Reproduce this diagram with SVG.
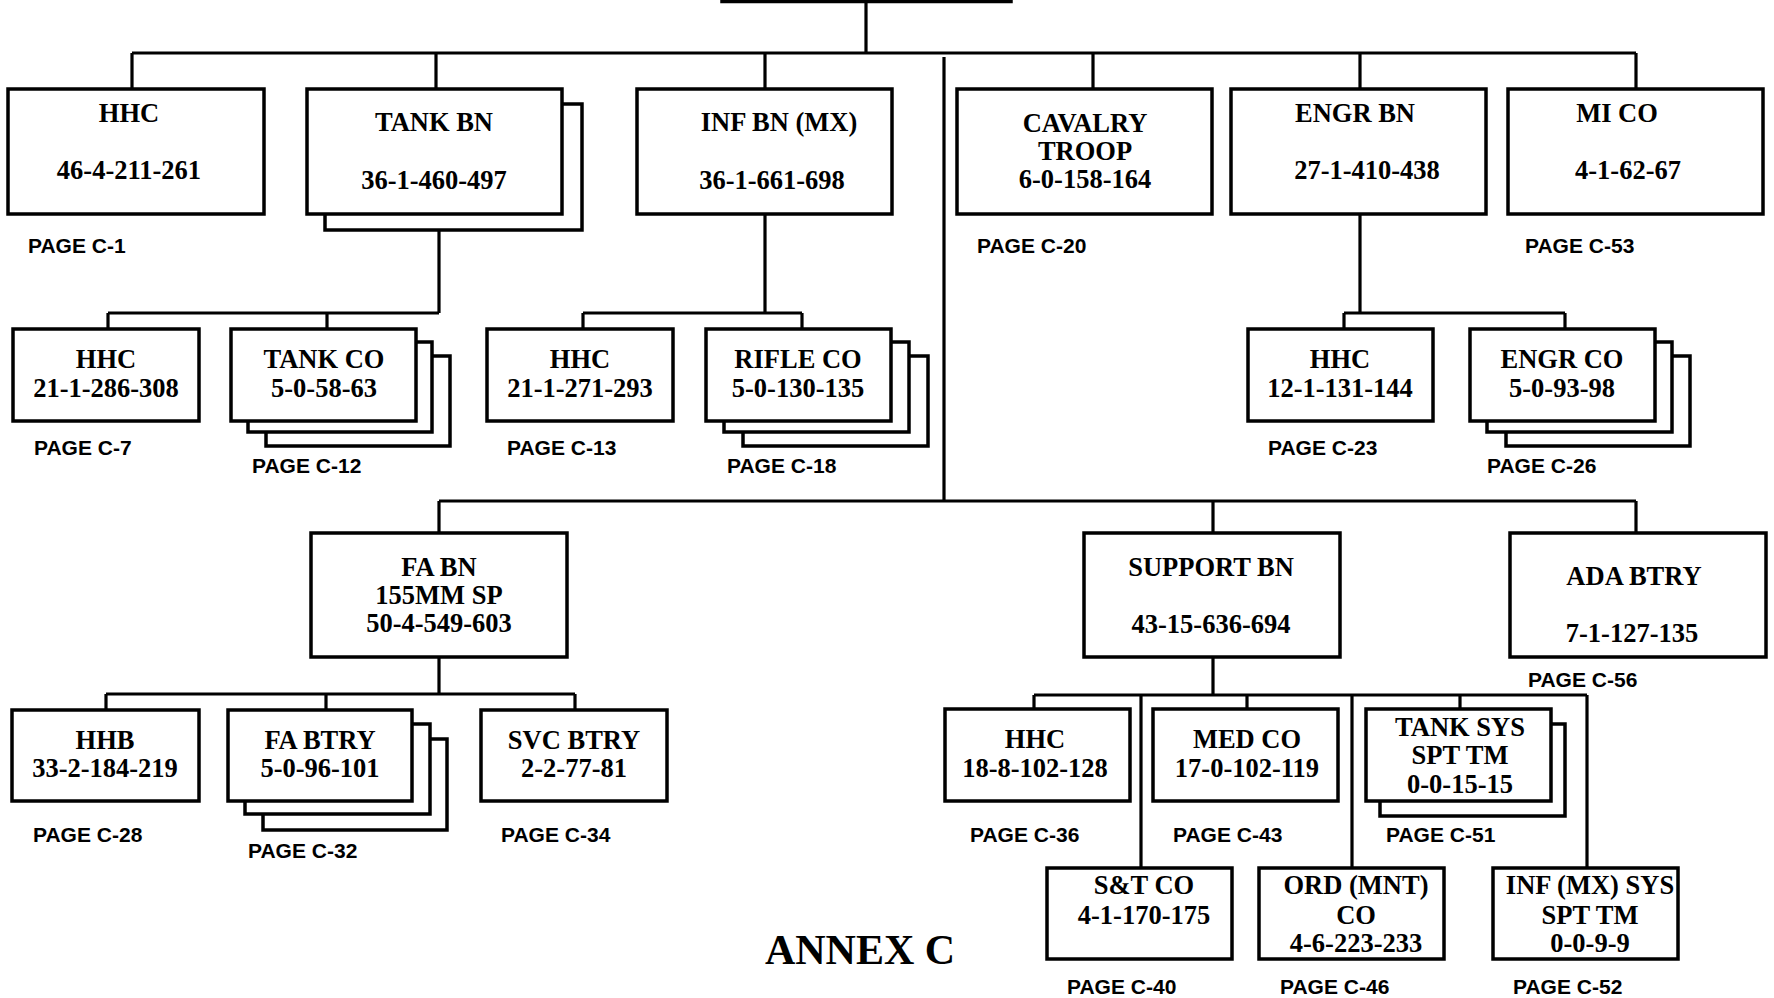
<svg xmlns="http://www.w3.org/2000/svg" width="1774" height="998" viewBox="0 0 1774 998">
<style>
.b{fill:#fff;stroke:#000;stroke-width:3.5}
.c{fill:none;stroke:#000;stroke-width:3.2}
.t{font-family:"Liberation Serif","Times New Roman",serif;font-weight:bold;font-size:26.5px;text-anchor:middle;fill:#000}
.p{font-family:"Liberation Sans",Arial,sans-serif;font-weight:bold;font-size:21px;fill:#000}
.a{font-family:"Liberation Serif","Times New Roman",serif;font-weight:bold;font-size:42px;text-anchor:middle;fill:#000}
</style>
<rect width="1774" height="998" fill="#fff"/>
<g id="connectors">
<path class="c" d="M866 1V53M132 53H1636M132 53V89M436 53V89M765 53V89M1093 53V89M1360 53V89M1636 53V89"/>
<path class="c" d="M944 57V501M439 501H1636M439 501V533M1213 501V533M1636 501V533"/>
<path class="c" d="M439 230V313M108 313H439M108 313V329M327 313V329"/>
<path class="c" d="M765 214V313M583 313H802M583 313V329M802 313V329"/>
<path class="c" d="M1360 214V313M1344 313H1565M1344 313V329M1565 313V329"/>
<path class="c" d="M439 657V694M106 694H575M106 694V710M326 694V710M575 694V710"/>
<path class="c" d="M1213 657V695M1034 695H1587M1034 695V709M1247 695V709M1460 695V709M1141 695V868M1352 695V868M1587 695V868"/>
</g>
<g id="top"><rect class="b" x="722" y="-100" width="289" height="101.5"/></g>
<g id="hhc-div"><rect class="b" x="8" y="89" width="256" height="125"/><text class="t" x="129" y="122">HHC</text><text class="t" x="129" y="179">46-4-211-261</text><text class="p" x="28" y="253">PAGE C-1</text></g>
<g id="tank-bn"><rect class="b" x="325" y="104" width="257" height="126"/><rect class="b" x="307" y="89" width="255" height="125"/><text class="t" x="434" y="131">TANK BN</text><text class="t" x="434" y="189">36-1-460-497</text></g>
<g id="inf-bn"><rect class="b" x="637" y="89" width="255" height="125"/><text class="t" x="779" y="131">INF BN (MX)</text><text class="t" x="772" y="189">36-1-661-698</text></g>
<g id="cav"><rect class="b" x="957" y="89" width="255" height="125"/><text class="t" x="1085" y="132">CAVALRY</text><text class="t" x="1085" y="160">TROOP</text><text class="t" x="1085" y="188">6-0-158-164</text><text class="p" x="977" y="253">PAGE C-20</text></g>
<g id="engr-bn"><rect class="b" x="1231" y="89" width="255" height="125"/><text class="t" x="1355" y="122">ENGR BN</text><text class="t" x="1367" y="179">27-1-410-438</text></g>
<g id="mi-co"><rect class="b" x="1508" y="89" width="255" height="125"/><text class="t" x="1617" y="122">MI CO</text><text class="t" x="1628" y="179">4-1-62-67</text><text class="p" x="1525" y="253">PAGE C-53</text></g>
<g id="tank-hhc"><rect class="b" x="13" y="329" width="186" height="92"/><text class="t" x="106" y="368">HHC</text><text class="t" x="106" y="397">21-1-286-308</text><text class="p" x="34" y="455">PAGE C-7</text></g>
<g id="tank-co"><rect class="b" x="266" y="356" width="184" height="90"/><rect class="b" x="248" y="342" width="184" height="90"/><rect class="b" x="231" y="329" width="185" height="92"/><text class="t" x="324" y="368">TANK CO</text><text class="t" x="324" y="397">5-0-58-63</text><text class="p" x="252" y="473">PAGE C-12</text></g>
<g id="inf-hhc"><rect class="b" x="487" y="329" width="186" height="92"/><text class="t" x="580" y="368">HHC</text><text class="t" x="580" y="397">21-1-271-293</text><text class="p" x="507" y="455">PAGE C-13</text></g>
<g id="rifle-co"><rect class="b" x="743" y="356" width="185" height="90"/><rect class="b" x="724" y="342" width="185" height="90"/><rect class="b" x="706" y="329" width="185" height="92"/><text class="t" x="798" y="368">RIFLE CO</text><text class="t" x="798" y="397">5-0-130-135</text><text class="p" x="727" y="473">PAGE C-18</text></g>
<g id="engr-hhc"><rect class="b" x="1248" y="329" width="185" height="92"/><text class="t" x="1340" y="368">HHC</text><text class="t" x="1340" y="397">12-1-131-144</text><text class="p" x="1268" y="455">PAGE C-23</text></g>
<g id="engr-co"><rect class="b" x="1506" y="356" width="184" height="90"/><rect class="b" x="1487" y="342" width="185" height="90"/><rect class="b" x="1470" y="329" width="185" height="92"/><text class="t" x="1562" y="368">ENGR CO</text><text class="t" x="1562" y="397">5-0-93-98</text><text class="p" x="1487" y="473">PAGE C-26</text></g>
<g id="fa-bn"><rect class="b" x="311" y="533" width="256" height="124"/><text class="t" x="439" y="576">FA BN</text><text class="t" x="439" y="604">155MM SP</text><text class="t" x="439" y="632">50-4-549-603</text></g>
<g id="spt-bn"><rect class="b" x="1084" y="533" width="256" height="124"/><text class="t" x="1211" y="576">SUPPORT BN</text><text class="t" x="1211" y="633">43-15-636-694</text></g>
<g id="ada"><rect class="b" x="1510" y="533" width="256" height="124"/><text class="t" x="1634" y="585">ADA BTRY</text><text class="t" x="1632" y="642">7-1-127-135</text><text class="p" x="1528" y="687">PAGE C-56</text></g>
<g id="hhb"><rect class="b" x="12" y="710" width="187" height="91"/><text class="t" x="105" y="749">HHB</text><text class="t" x="105" y="777">33-2-184-219</text><text class="p" x="33" y="842">PAGE C-28</text></g>
<g id="fa-btry"><rect class="b" x="263" y="739" width="184" height="91"/><rect class="b" x="245" y="724" width="185" height="90"/><rect class="b" x="228" y="710" width="184" height="91"/><text class="t" x="320" y="749">FA BTRY</text><text class="t" x="320" y="777">5-0-96-101</text><text class="p" x="248" y="858">PAGE C-32</text></g>
<g id="svc-btry"><rect class="b" x="481" y="710" width="186" height="91"/><text class="t" x="574" y="749">SVC BTRY</text><text class="t" x="574" y="777">2-2-77-81</text><text class="p" x="501" y="842">PAGE C-34</text></g>
<g id="spt-hhc"><rect class="b" x="945" y="709" width="185" height="92"/><text class="t" x="1035" y="748">HHC</text><text class="t" x="1035" y="777">18-8-102-128</text><text class="p" x="970" y="842">PAGE C-36</text></g>
<g id="med-co"><rect class="b" x="1153" y="709" width="185" height="92"/><text class="t" x="1247" y="748">MED CO</text><text class="t" x="1247" y="777">17-0-102-119</text><text class="p" x="1173" y="842">PAGE C-43</text></g>
<g id="tank-sys"><rect class="b" x="1380" y="724" width="185" height="92"/><rect class="b" x="1366" y="709" width="185" height="92"/><text class="t" x="1460" y="736">TANK SYS</text><text class="t" x="1460" y="764">SPT TM</text><text class="t" x="1460" y="793">0-0-15-15</text><text class="p" x="1386" y="842">PAGE C-51</text></g>
<g id="st-co"><rect class="b" x="1047" y="868" width="185" height="91"/><text class="t" x="1144" y="894">S&amp;T CO</text><text class="t" x="1144" y="924">4-1-170-175</text><text class="p" x="1067" y="994">PAGE C-40</text></g>
<g id="ord-co"><rect class="b" x="1259" y="868" width="185" height="91"/><text class="t" x="1356" y="894">ORD (MNT)</text><text class="t" x="1356" y="924">CO</text><text class="t" x="1356" y="952">4-6-223-233</text><text class="p" x="1280" y="994">PAGE C-46</text></g>
<g id="inf-sys"><rect class="b" x="1493" y="868" width="185" height="91"/><text class="t" x="1590" y="894">INF (MX) SYS</text><text class="t" x="1590" y="924">SPT TM</text><text class="t" x="1590" y="952">0-0-9-9</text><text class="p" x="1513" y="994">PAGE C-52</text></g>
<g id="annex"><text class="a" x="860" y="964">ANNEX C</text></g>
</svg>
